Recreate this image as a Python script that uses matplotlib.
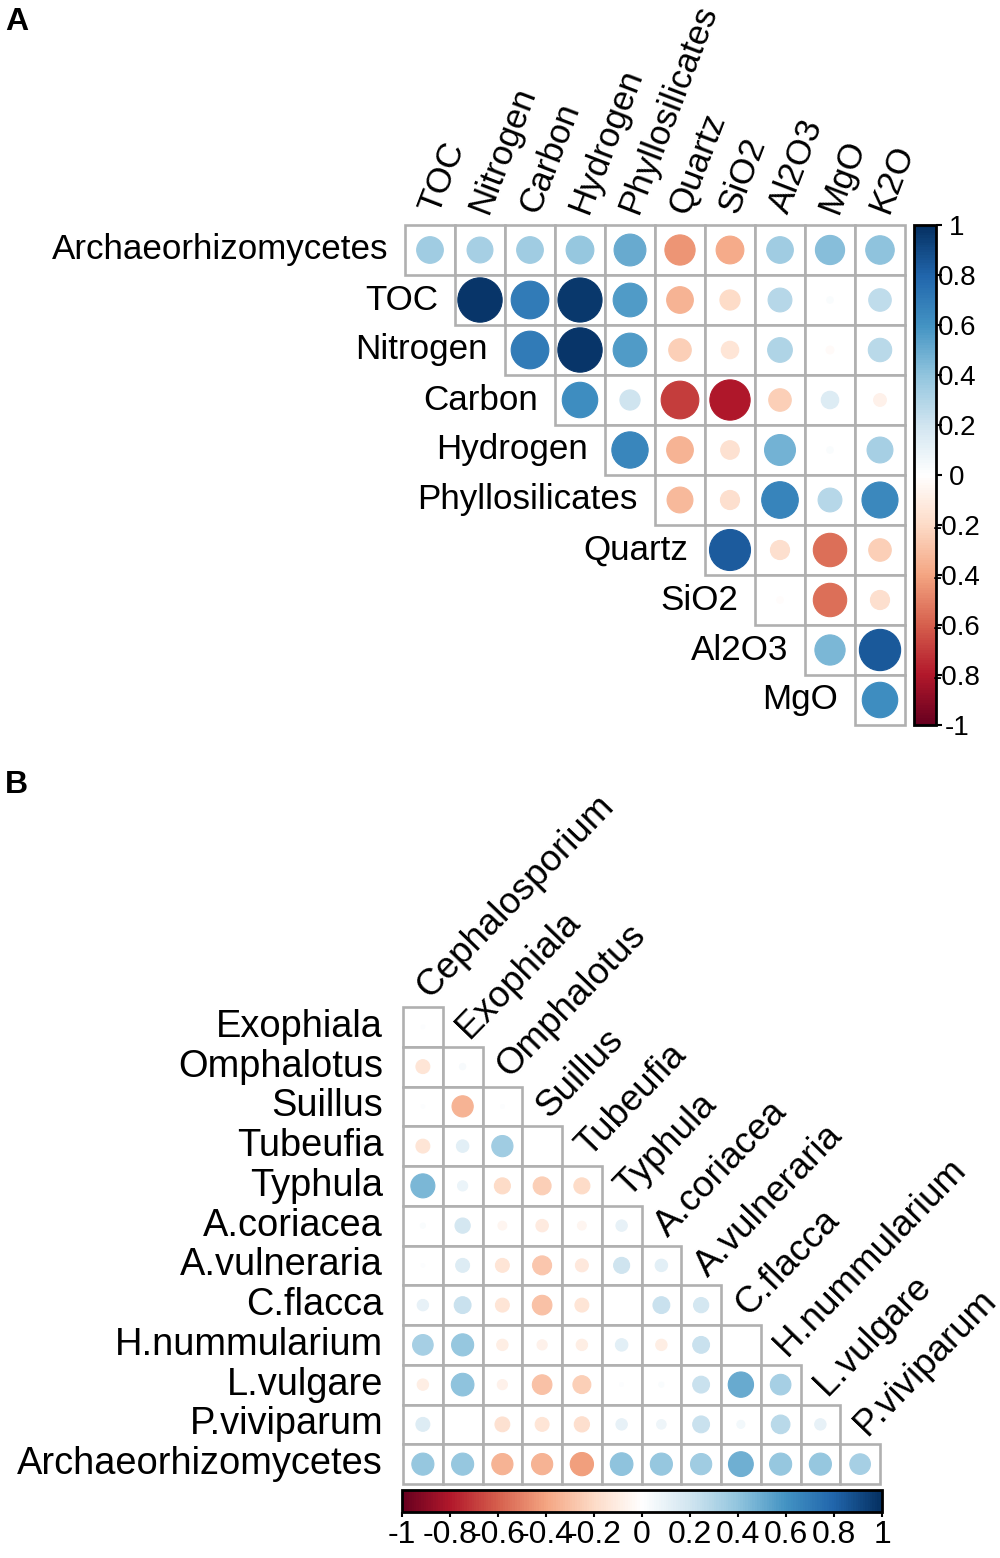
import matplotlib
matplotlib.use('Agg')
import matplotlib.pyplot as plt
import matplotlib.cm as cm
from matplotlib.colors import LinearSegmentedColormap, Normalize
from matplotlib.patches import Rectangle, Circle
import numpy as np

plt.rcParams['font.family'] = ['Liberation Sans', 'DejaVu Sans']

# ---------------- data ----------------
palette = ["#67001F", "#B2182B", "#D6604D", "#F4A582", "#FDDBC7", "#FFFFFF",
           "#D1E5F0", "#92C5DE", "#4393C3", "#2166AC", "#053061"]

a_rows = ["Archaeorhizomycetes", "TOC", "Nitrogen", "Carbon", "Hydrogen",
          "Phyllosilicates", "Quartz", "SiO2", "Al2O3", "MgO"]
a_cols = ["TOC", "Nitrogen", "Carbon", "Hydrogen", "Phyllosilicates",
          "Quartz", "SiO2", "Al2O3", "MgO", "K2O"]
# row i holds the values for columns i .. 9 (upper triangle)
a_archaeo = [0.35, 0.33, 0.35, 0.38, 0.50, -0.45, -0.38, 0.35, 0.42, 0.40]
a_toc = [0.97, 0.70, 0.96, 0.56, -0.35, -0.20, 0.28, 0.02, 0.25]
a_nitrogen = [0.70, 0.97, 0.56, -0.25, -0.15, 0.30, -0.03, 0.27]
a_carbon = [0.62, 0.20, -0.70, -0.80, -0.25, 0.15, -0.08]
a_hydrogen = [0.65, -0.35, -0.17, 0.47, 0.02, 0.33]
a_phyllo = [-0.33, -0.18, 0.66, 0.28, 0.64]
a_quartz = [0.83, -0.18, -0.55, -0.25]
a_sio2 = [-0.02, -0.55, -0.18]
a_al2o3 = [0.45, 0.84]
a_mgo = [0.62]
a_values = [a_archaeo, a_toc, a_nitrogen, a_carbon, a_hydrogen,
            a_phyllo, a_quartz, a_sio2, a_al2o3, a_mgo]

b_rows = ["Exophiala", "Omphalotus", "Suillus", "Tubeufia", "Typhula",
          "A.coriacea", "A.vulneraria", "C.flacca", "H.nummularium",
          "L.vulgare", "P.viviparum", "Archaeorhizomycetes"]
b_cols = ["Cephalosporium", "Exophiala", "Omphalotus", "Suillus", "Tubeufia",
          "Typhula", "A.coriacea", "A.vulneraria", "C.flacca",
          "H.nummularium", "L.vulgare", "P.viviparum"]
# row i holds the values for columns 0 .. i (lower triangle)
b_exophiala = [0.01]
b_omphalotus = [-0.15, 0.03]
b_suillus = [0.01, -0.35, 0.01]
b_tubeufia = [-0.15, 0.12, 0.35, 0.0]
b_typhula = [0.45, 0.08, -0.20, -0.25, -0.20]
b_acoriacea = [0.02, 0.18, -0.06, -0.12, -0.06, 0.10]
b_avulneraria = [0.01, 0.15, -0.15, -0.28, -0.13, 0.20, 0.12]
b_cflacca = [0.10, 0.22, -0.15, -0.30, -0.15, 0.0, 0.22, 0.18]
b_hnummularium = [0.33, 0.38, -0.10, -0.08, -0.10, 0.12, -0.10, 0.22, 0.0]
b_lvulgare = [-0.10, 0.40, -0.08, -0.30, -0.25, 0.01, 0.02, 0.22, 0.50, 0.33]
b_pviviparum = [0.15, 0.0, -0.17, -0.15, -0.18, 0.10, 0.07, 0.22, 0.05, 0.27, 0.10]
b_archaeo = [0.38, 0.38, -0.35, -0.35, -0.42, 0.40, 0.38, 0.35, 0.48, 0.38, 0.38, 0.33]
b_values = [b_exophiala, b_omphalotus, b_suillus, b_tubeufia, b_typhula,
            b_acoriacea, b_avulneraria, b_cflacca, b_hnummularium,
            b_lvulgare, b_pviviparum, b_archaeo]

cbar_ticks = [-1, -0.8, -0.6, -0.4, -0.2, 0, 0.2, 0.4, 0.6, 0.8, 1]
cbar_labels = ["-1", "-0.8", "-0.6", "-0.4", "-0.2", "0", "0.2", "0.4", "0.6", "0.8", "1"]

# ---------------- figure ----------------
W, H = 1000, 1558
fig = plt.figure(figsize=(W / 100, H / 100), dpi=100)
cmap = LinearSegmentedColormap.from_list('corrRdBu', palette, N=200)
norm = Normalize(-1, 1)
GRID = '#B0B0B0'


def box(left, top, width, height):
    return [left / W, 1 - (top + height) / H, width / W, height / H]


def draw_cell(ax, i, j, v):
    ax.add_patch(Rectangle((j - 0.5, i - 0.5), 1, 1, facecolor='white',
                           edgecolor=GRID, lw=1.9, zorder=1, clip_on=False))
    c = cmap(norm(v))
    ax.add_patch(Circle((j, i), 0.45 * np.sqrt(abs(v)), facecolor=c,
                        edgecolor=c, lw=0.8, zorder=2, clip_on=False))


# ---- Panel A ----
nA = len(a_cols)
axA = fig.add_axes(box(405, 225, 500, 500))
axA.set_xlim(-0.5, nA - 0.5)
axA.set_ylim(len(a_rows) - 0.5, -0.5)
axA.axis('off')
for i, row in enumerate(a_values):
    start = nA - len(row)
    for k, v in enumerate(row):
        draw_cell(axA, i, start + k, v)
    axA.text(start - 0.5 - 0.34, i, a_rows[i], ha='right', va='center',
             fontsize=25.2, clip_on=False)
for j, name in enumerate(a_cols):
    axA.text(j - 0.02, -0.5 - 0.26, name, rotation=69, rotation_mode='anchor',
             ha='left', va='center', fontsize=25.2, clip_on=False)

caxA = fig.add_axes(box(914, 225, 22, 500))
cbA = fig.colorbar(cm.ScalarMappable(norm=norm, cmap=cmap), cax=caxA,
                   orientation='vertical')
caxA.set_yticks(cbar_ticks, cbar_labels, ha='center')
caxA.tick_params(axis='y', length=4.5, width=1.5, pad=10.5, labelsize=20)
cbA.outline.set_linewidth(2)

# ---- Panel B ----
nB = len(b_cols)
cell = 39.75
axB = fig.add_axes(box(403, 1007, nB * cell, len(b_rows) * cell))
axB.set_xlim(-0.5, nB - 0.5)
axB.set_ylim(len(b_rows) - 0.5, -0.5)
axB.axis('off')
for i, row in enumerate(b_values):
    for j, v in enumerate(row):
        draw_cell(axB, i, j, v)
    axB.text(-0.5 - 0.5, i, b_rows[i], ha='right', va='center',
             fontsize=27.4, clip_on=False)
for j, name in enumerate(b_cols):
    axB.text(j, j - 0.5 - 0.36, name, rotation=46, rotation_mode='anchor',
             ha='left', va='center', fontsize=26.5, clip_on=False)

caxB = fig.add_axes(box(402, 1490, 480, 22))
cbB = fig.colorbar(cm.ScalarMappable(norm=norm, cmap=cmap), cax=caxB,
                   orientation='horizontal')
caxB.set_xticks(cbar_ticks, cbar_labels)
caxB.tick_params(axis='x', length=3.5, width=1.5, pad=2.5, labelsize=23)
cbB.outline.set_linewidth(2)

# panel letters
fig.text(5 / W, 1 - 7 / H, 'A', fontsize=23, fontweight='bold', va='top', ha='left')
fig.text(5 / W, 1 - 770 / H, 'B', fontsize=23, fontweight='bold', va='top', ha='left')

fig.savefig('out.png', dpi=100)
